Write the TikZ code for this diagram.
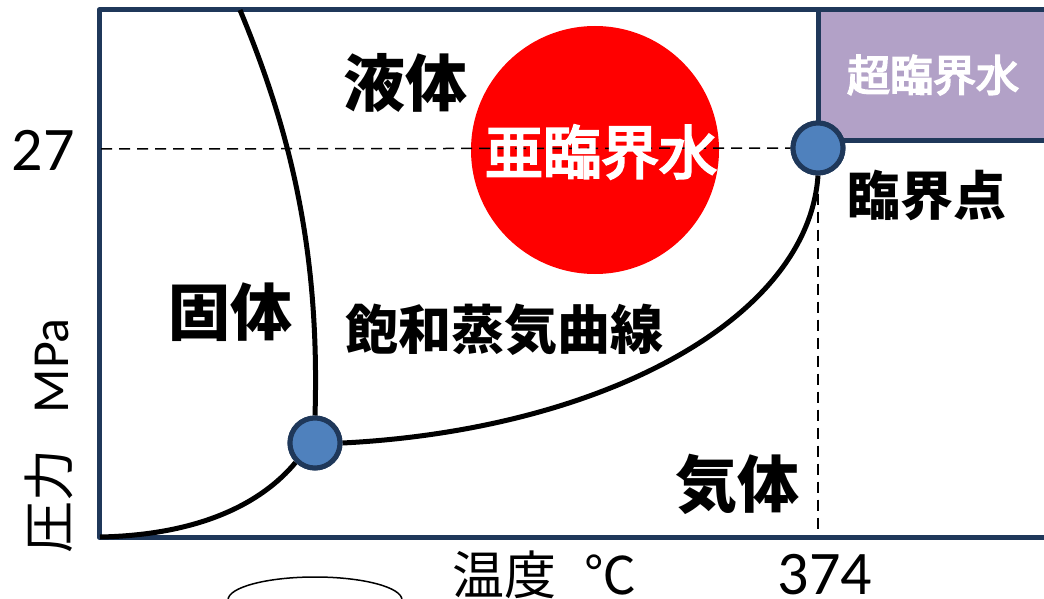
\documentclass[tikz,border=0pt]{standalone}
\usepackage{fontspec}
\newfontfamily\jpfont{Noto Sans CJK JP}
\newfontfamily\jpmed{Noto Sans CJK JP}[FakeBold=4]
\newfontfamily\calfont{Carlito}
\definecolor{navy}{RGB}{31,56,90}
\definecolor{ptblue}{RGB}{79,129,189}
\definecolor{lav}{RGB}{178,161,199}
\tikzset{
  frame/.style={draw=navy,line width=5pt,line join=round},
  curve/.style={draw=black,line width=5pt},
  guide/.style={draw=black,line width=1.5pt,dash pattern=on 11pt off 7pt},
  ptnode/.style={circle,fill=ptblue,draw=navy,line width=5pt,minimum size=50pt,inner sep=0pt},
  lbl/.style={inner sep=0pt,font=\jpfont\bfseries\fontsize{62}{64}\selectfont},
  num/.style={inner sep=0pt,font=\calfont\fontsize{62}{64}\selectfont}
}
\begin{document}
\begin{tikzpicture}[x=1pt,y=-1pt]
\useasboundingbox (0,0) rectangle (1044,599);
% supercritical box
\draw[frame,fill=lav] (818,10) rectangle (1050,141);
\node[inner sep=0pt,text=white,font=\jpmed\fontsize{43}{45}\selectfont] (sc) at (933,75) {超臨界水};
% frame
\draw[frame] (1050,10) -- (99,10) -- (99,537) -- (1050,537);
% red circle
\node[circle,fill=red,minimum size=248pt,inner sep=0pt] (sub) at (595,150) {};
% points
\coordinate (dl) at (101,149);
\coordinate (db) at (818,531);
\node[ptnode] (cp) at (818,148) {};
\node[ptnode] (tp) at (315,443) {};
\draw[guide] (dl) -- (cp.west);
\draw[guide] (cp.south) -- (db);
\node[inner sep=0pt,text=white,font=\jpmed\fontsize{58}{60}\selectfont] at (601,152) {亜臨界水};
% curves
\coordinate (mtop) at (240,10);
\coordinate (org) at (100,537);
\draw[curve] (tp.north) .. controls (320,250) and (290,130) .. (mtop);
\draw[curve] (org) .. controls (200,535) and (262,503) .. (tp.south west);
\draw[curve] (tp.east) .. controls (600,430) and (808,320) .. (cp.south);
% redraw points on top
\node[ptnode] at (cp.center) {};
\node[ptnode] at (tp.center) {};
% labels
\node[lbl] (liq) at (405,83) {液体};
\node[lbl] (sol) at (230,312) {固体};
\node[lbl,font=\jpfont\bfseries\fontsize{53}{55}\selectfont] (sat) at (504,330) {飽和蒸気曲線};
\node[lbl] (gas) at (737,484) {気体};
\node[lbl,font=\jpfont\bfseries\fontsize{53}{55}\selectfont] (cpl) at (927,195) {臨界点};
\node[num] (p27) at (43,150) {27};
\node[num] (t374) at (825,575) {374};
\node[inner sep=0pt,anchor=west,font=\jpfont\fontsize{52}{54}\selectfont] (tl) at (452,575) {温度\hspace{0.55em}℃};
\node[inner sep=0pt,rotate=90,font=\jpfont\fontsize{52}{54}\selectfont] (pl) at (49,436) {圧力\hspace{0.7em}{\calfont MPa}};
% ellipse at bottom
\draw[line width=1.5pt] (315,600) ellipse [x radius=87pt,y radius=23pt];
\end{tikzpicture}
\end{document}
